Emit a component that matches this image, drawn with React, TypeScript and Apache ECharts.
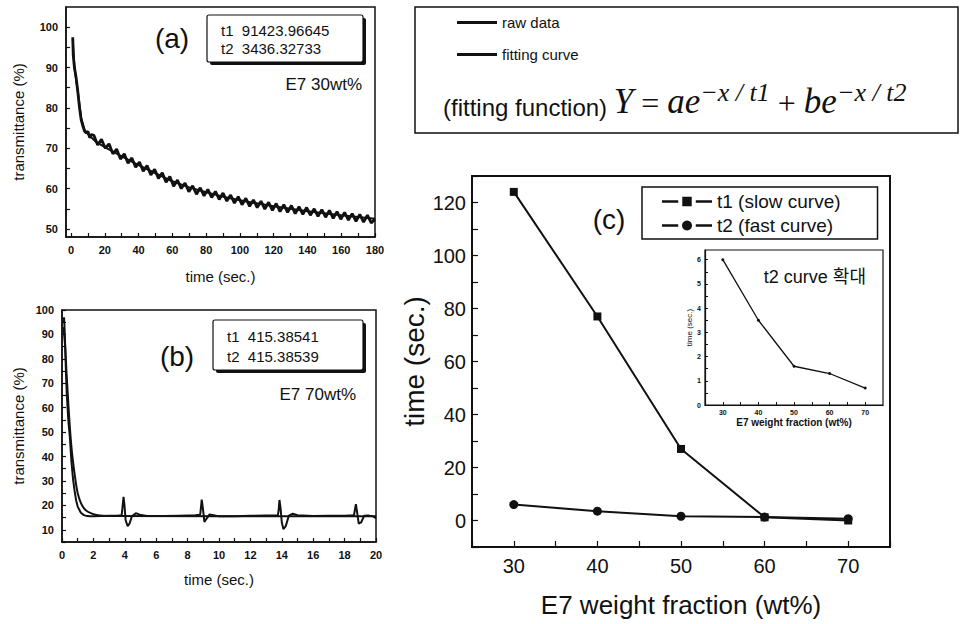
import React, { useEffect, useRef } from "react";
import * as echarts from "echarts";

// ---------- Panel (a): E7 30wt% ----------
const aRawTime = [1, 1.3, 2, 3, 4, 5, 6, 7, 8, 9, 10, 11, 12,
  13.5, 15.75, 18, 20.25, 22.5, 24.75, 27, 29.25, 31.5, 33.75, 36, 38.25, 40.5, 42.75, 45, 47.25, 49.5,
  51.75, 54, 56.25, 58.5, 60.75, 63, 65.25, 67.5, 69.75, 72, 74.25, 76.5, 78.75, 81, 83.25, 85.5, 87.75,
  90, 92.25, 94.5, 96.75, 99, 101.25, 103.5, 105.75, 108, 110.25, 112.5, 114.75, 117, 119.25, 121.5,
  123.75, 126, 128.25, 130.5, 132.75, 135, 137.25, 139.5, 141.75, 144, 146.25, 148.5, 150.75, 153,
  155.25, 157.5, 159.75, 162, 164.25, 166.5, 168.75, 171, 173.25, 175.5, 177.75, 180];
const aRawValue = [97.5, 93, 90, 87.5, 84, 80, 77, 75.5, 74.2, 73.8, 74.2, 72.6, 73.4,
  73.2, 70.8, 72.2, 70.0, 71.1, 68.6, 69.8, 67.3, 68.6, 66.3, 67.6, 65.3, 66.6, 64.3, 65.7, 63.4, 64.8,
  62.5, 63.9, 61.6, 63.0, 60.6, 62.1, 60.0, 61.4, 59.2, 60.7, 58.6, 60.2, 58.2, 59.8, 57.8, 59.3, 57.3,
  58.9, 56.9, 58.4, 56.4, 58.0, 56.0, 57.6, 55.6, 57.2, 55.3, 56.9, 54.9, 56.6, 54.6, 56.3,
  54.3, 56.0, 54.1, 55.8, 53.8, 55.5, 53.6, 55.3, 53.4, 55.0, 53.1, 54.8, 52.9, 54.6,
  52.6, 54.3, 52.4, 54.1, 52.2, 53.8, 51.9, 53.6, 51.7, 53.4, 51.5, 52.4];
const aFitTime = [1, 2, 4, 6, 8, 10, 15, 20, 30, 40, 50, 60, 70, 80, 90, 100, 120, 140, 160, 180];
const aFitValue = [97, 90, 84, 77.5, 74.5, 73.5, 71.5, 70.3, 68, 65.8, 63.8, 61.8, 60.3, 59.1, 58, 57.1, 55.6, 54.4, 53.4, 52.5];
const aXLabels = [0, 20, 40, 60, 80, 100, 120, 140, 160, 180];
const aXTicks = [0, 10, 20, 30, 40, 50, 60, 70, 80, 90, 100, 110, 120, 130, 140, 150, 160, 170, 180];
const aYLabels = [50, 60, 70, 80, 90, 100];
const aYTicks = [50, 55, 60, 65, 70, 75, 80, 85, 90, 95, 100];

// ---------- Panel (b): E7 70wt% ----------
const bRawTime = [0.1, 0.13, 0.16, 0.2, 0.25, 0.3, 0.4, 0.5, 0.6, 0.7, 0.8, 0.9, 1.0, 1.2, 1.4, 1.6, 1.8, 2, 2.5, 3, 3.5,
  3.8, 3.85, 3.92, 3.98, 4.05, 4.18, 4.3, 4.45, 4.7, 4.95, 5.5, 6.5, 7.5, 8.5,
  8.8, 8.85, 8.9, 8.97, 9.07, 9.2, 9.4, 9.65, 10, 11, 12, 13,
  13.75, 13.8, 13.85, 13.92, 14.0, 14.1, 14.25, 14.45, 14.7, 15, 16, 17, 18,
  18.6, 18.65, 18.72, 18.8, 18.9, 19.05, 19.25, 19.5, 19.8, 20];
const bRawValue = [95, 97, 93, 86, 75, 66, 55, 48, 38, 31, 26, 22, 19.5, 17, 16, 15.6, 15.5, 15.5, 15.6, 15.7, 15.8,
  16, 19, 23.5, 20, 14, 11.5, 12.5, 15.5, 16.8, 16.2, 15.6, 15.6, 15.8, 16,
  16.2, 19, 22.4, 19, 13.2, 14.5, 16.3, 16, 15.5, 15.5, 15.7, 15.9,
  16, 18, 22.2, 19, 13, 10.3, 11.5, 15.8, 16.6, 16, 15.6, 15.7, 15.8,
  16, 18, 20.5, 17, 12.5, 13, 15.8, 15.9, 15.5, 14.8];
const bFitTime = [0.1, 0.2, 0.3, 0.4, 0.5, 0.6, 0.7, 0.8, 0.9, 1.0, 1.2, 1.4, 1.6, 1.8, 2.0, 2.4, 3, 20];
const bFitValue = [93, 85, 73, 62, 52, 44, 38, 33, 28.5, 25, 21, 18.8, 17.6, 16.9, 16.4, 15.9, 15.6, 15.5];
const bXLabels = [0, 2, 4, 6, 8, 10, 12, 14, 16, 18, 20];
const bXTicks = [0, 1, 2, 3, 4, 5, 6, 7, 8, 9, 10, 11, 12, 13, 14, 15, 16, 17, 18, 19, 20];
const bYLabels = [10, 20, 30, 40, 50, 60, 70, 80, 90, 100];
const bYTicks = [5, 10, 15, 20, 25, 30, 35, 40, 45, 50, 55, 60, 65, 70, 75, 80, 85, 90, 95, 100];

// ---------- Panel (c) ----------
const weightFraction = [30, 40, 50, 60, 70];
const t1Slow = [124, 77, 27, 1.2, 0];
const t2Fast = [6.0, 3.5, 1.6, 1.3, 0.7];
const cXLabels = [30, 40, 50, 60, 70];
const cXTicks = [25, 30, 35, 40, 45, 50, 55, 60, 65, 70, 75];
const cYLabels = [0, 20, 40, 60, 80, 100, 120];
const cYTicks = [-10, 0, 10, 20, 30, 40, 50, 60, 70, 80, 90, 100, 110, 120, 130];
const insetXLabels = [30, 40, 50, 60, 70];
const insetXTicks = [30, 35, 40, 45, 50, 55, 60, 65, 70];
const insetYLabels = [0, 1, 2, 3, 4, 5, 6];
const insetYTicks = [0, 0.5, 1, 1.5, 2, 2.5, 3, 3.5, 4, 4.5, 5, 5.5, 6];

const BLACK = "#111";
const SANS = "'Liberation Sans', Arial, Helvetica, sans-serif";
const SERIF = "'Liberation Serif', 'Times New Roman', serif";

// legend icons: dash - marker - dash
const ICON_T1 = "path://M0,3.5h12v2h-12z M15,1h7v7h-7z M25,3.5h12v2h-12z";
const ICON_T2 = "path://M0,3.5h12v2h-12z M25,3.5h12v2h-12z M18.5,0.8a3.7,3.7 0 1 0 0.01 0z";

const zip = (xs: number[], ys: number[]) => xs.map((x, i) => [x, ys[i]]);

function valAxis(o: any) {
  return {
    type: "value",
    gridIndex: o.grid,
    min: o.min,
    max: o.max,
    axisLine: { show: true, onZero: false, lineStyle: { color: BLACK, width: o.lw ?? 1.5 } },
    axisTick: {
      show: true,
      inside: true,
      length: o.tickLen ?? 4,
      customValues: o.ticks,
      lineStyle: { color: BLACK, width: o.tw ?? 1.2 },
    },
    axisLabel: {
      customValues: o.labels,
      color: BLACK,
      fontSize: o.fs,
      fontWeight: o.bold ? "bold" : "normal",
      fontFamily: SANS,
      margin: o.margin ?? 6,
    },
    splitLine: { show: false },
    name: o.name,
    nameLocation: "middle",
    nameGap: o.nameGap,
    nameTextStyle: {
      color: BLACK,
      fontSize: o.nameSize,
      fontFamily: SANS,
      fontWeight: o.nameBold ? "bold" : "normal",
    },
  };
}

function boxWithShadow(x: number, y: number, w: number, h: number, line1: string, line2: string) {
  return {
    type: "group",
    z: 50,
    children: [
      { type: "rect", shape: { x: x + 3, y: y + 3, width: w, height: h, r: 2 }, style: { fill: BLACK } },
      { type: "rect", shape: { x, y, width: w, height: h, r: 2 }, style: { fill: "#fff", stroke: BLACK, lineWidth: 1.2 } },
      { type: "text", x: x + 14, y: y + h * 0.32, style: { text: line1, fill: BLACK, font: `15px ${SANS}`, verticalAlign: "middle" } },
      { type: "text", x: x + 14, y: y + h * 0.72, style: { text: line2, fill: BLACK, font: `15px ${SANS}`, verticalAlign: "middle" } },
    ],
  };
}

export default function App() {
  const ref = useRef<HTMLDivElement>(null);

  useEffect(() => {
    document.body.style.margin = "0";
    if (!ref.current) return;
    const chart = echarts.init(ref.current, undefined, { renderer: "svg" });

    const option: any = {
      animation: false,
      backgroundColor: "#fff",
      grid: [
        { left: 66, top: 7, width: 309, height: 230, show: true, borderColor: BLACK, borderWidth: 1.5, backgroundColor: "transparent" },
        { left: 62, top: 310, width: 314, height: 232, show: true, borderColor: BLACK, borderWidth: 1.5, backgroundColor: "transparent" },
        { left: 472, top: 176, width: 418, height: 371, show: true, borderColor: BLACK, borderWidth: 2, backgroundColor: "transparent" },
        { left: 705, top: 250, width: 178, height: 155, show: true, borderColor: BLACK, borderWidth: 1.2, backgroundColor: "#fff" },
      ],
      xAxis: [
        valAxis({ grid: 0, min: -3, max: 180, labels: aXLabels, ticks: aXTicks, fs: 11, bold: true, margin: 7, name: "time (sec.)", nameGap: 32, nameSize: 15 }),
        valAxis({ grid: 1, min: 0, max: 20, labels: bXLabels, ticks: bXTicks, fs: 11, bold: true, margin: 7, name: "time (sec.)", nameGap: 30, nameSize: 15 }),
        valAxis({ grid: 2, min: 25, max: 75, labels: cXLabels, ticks: cXTicks, fs: 20, margin: 9, tickLen: 6, lw: 2, name: "E7 weight fraction (wt%)", nameGap: 45, nameSize: 26 }),
        valAxis({ grid: 3, min: 25, max: 75, labels: insetXLabels, ticks: insetXTicks, fs: 7, bold: true, margin: 4, tickLen: 3, lw: 1.2, tw: 1, name: "E7 weight fraction (wt%)", nameGap: 12, nameSize: 10, nameBold: true }),
      ],
      yAxis: [
        valAxis({ grid: 0, min: 48, max: 105, labels: aYLabels, ticks: aYTicks, fs: 11, bold: true, margin: 8, name: "transmittance (%)", nameGap: 40, nameSize: 15 }),
        valAxis({ grid: 1, min: 5, max: 100, labels: bYLabels, ticks: bYTicks, fs: 11, bold: true, margin: 8, name: "transmittance (%)", nameGap: 36, nameSize: 15 }),
        valAxis({ grid: 2, min: -10, max: 130, labels: cYLabels, ticks: cYTicks, fs: 20, margin: 6, tickLen: 6, lw: 2, name: "time (sec.)", nameGap: 44, nameSize: 28 }),
        valAxis({ grid: 3, min: 0, max: 6.4, labels: insetYLabels, ticks: insetYTicks, fs: 7, bold: true, margin: 4, tickLen: 3, lw: 1.2, tw: 1, name: "time (sec.)", nameGap: 10, nameSize: 8 }),
      ],
      legend: [
        {
          data: [
            { name: "raw data", icon: "rect" },
            { name: "fitting curve", icon: "rect" },
          ],
          orient: "vertical",
          left: 452,
          top: 10,
          itemWidth: 40,
          itemHeight: 3,
          itemGap: 17,
          selectedMode: false,
          textStyle: { color: BLACK, fontSize: 15, fontFamily: SANS },
        },
        {
          data: [
            { name: "t1 (slow curve)", icon: ICON_T1 },
            { name: "t2 (fast curve)", icon: ICON_T2 },
          ],
          orient: "vertical",
          left: 642,
          top: 187,
          padding: [5, 37, 4, 20],
          itemWidth: 50,
          itemHeight: 10,
          itemGap: 5,
          selectedMode: false,
          borderColor: BLACK,
          borderWidth: 1.5,
          backgroundColor: "#fff",
          textStyle: { color: BLACK, fontSize: 19, fontFamily: SANS },
        },
      ],
      series: [
        { name: "fitting curve", type: "line", xAxisIndex: 0, yAxisIndex: 0, data: zip(aFitTime, aFitValue), symbol: "none", lineStyle: { color: BLACK, width: 2 }, itemStyle: { color: BLACK } },
        { name: "raw data", type: "line", xAxisIndex: 0, yAxisIndex: 0, data: zip(aRawTime, aRawValue), symbol: "none", lineStyle: { color: BLACK, width: 2.8 }, itemStyle: { color: BLACK } },
        { name: "raw data", type: "line", xAxisIndex: 1, yAxisIndex: 1, data: zip(bRawTime, bRawValue), symbol: "none", lineStyle: { color: BLACK, width: 2 }, itemStyle: { color: BLACK } },
        { name: "fitting curve", type: "line", xAxisIndex: 1, yAxisIndex: 1, data: zip(bFitTime, bFitValue), symbol: "none", smooth: 0.3, lineStyle: { color: BLACK, width: 2 }, itemStyle: { color: BLACK } },
        { name: "t1 (slow curve)", type: "line", xAxisIndex: 2, yAxisIndex: 2, data: zip(weightFraction, t1Slow), symbol: "rect", symbolSize: 8, lineStyle: { color: BLACK, width: 2 }, itemStyle: { color: BLACK } },
        { name: "t2 (fast curve)", type: "line", xAxisIndex: 2, yAxisIndex: 2, data: zip(weightFraction, t2Fast), symbol: "circle", symbolSize: 9, lineStyle: { color: BLACK, width: 2 }, itemStyle: { color: BLACK } },
        { name: "t2 inset", type: "line", xAxisIndex: 3, yAxisIndex: 3, data: zip(weightFraction, t2Fast), symbol: "circle", symbolSize: 3, lineStyle: { color: BLACK, width: 1.3 }, itemStyle: { color: BLACK } },
      ],
      graphic: [
        // legend / formula box
        { type: "rect", z: 1, shape: { x: 415, y: 7, width: 543, height: 126 }, style: { fill: "none", stroke: BLACK, lineWidth: 1.5 } },
        {
          type: "text",
          z: 10,
          x: 443,
          y: 99,
          style: {
            text: "{a|(fitting function) }{b|Y}{c| = }{b|ae}{s|−x / t1}{c| + }{b|be}{s|−x / t2}",
            fill: BLACK,
            verticalAlign: "middle",
            rich: {
              a: { fontFamily: SANS, fontSize: 24, fill: BLACK, lineHeight: 40, verticalAlign: "bottom" },
              b: { fontFamily: SERIF, fontStyle: "italic", fontSize: 35, fill: BLACK, lineHeight: 40, verticalAlign: "bottom" },
              c: { fontFamily: SERIF, fontSize: 32, fill: BLACK, lineHeight: 40, verticalAlign: "bottom" },
              s: { fontFamily: SERIF, fontStyle: "italic", fontSize: 26, fill: BLACK, lineHeight: 20, verticalAlign: "top" },
            },
          },
        },
        // panel (a)
        boxWithShadow(207, 15, 156, 47, "t1  91423.96645", "t2  3436.32733"),
        { type: "text", z: 50, x: 172, y: 38, style: { text: "(a)", fill: BLACK, font: `28px ${SANS}`, align: "center", verticalAlign: "middle" } },
        { type: "text", z: 50, x: 362, y: 84, style: { text: "E7 30wt%", fill: BLACK, font: `17px ${SANS}`, align: "right", verticalAlign: "middle" } },
        // panel (b)
        boxWithShadow(213, 320, 150, 50, "t1  415.38541", "t2  415.38539"),
        { type: "text", z: 50, x: 177, y: 356, style: { text: "(b)", fill: BLACK, font: `28px ${SANS}`, align: "center", verticalAlign: "middle" } },
        { type: "text", z: 50, x: 356, y: 394, style: { text: "E7 70wt%", fill: BLACK, font: `17px ${SANS}`, align: "right", verticalAlign: "middle" } },
        // panel (c)
        { type: "text", z: 50, x: 609, y: 219, style: { text: "(c)", fill: BLACK, font: `28px ${SANS}`, align: "center", verticalAlign: "middle" } },
        { type: "text", z: 50, x: 866, y: 277, style: { text: "t2 curve 확대", fill: BLACK, font: `18px ${SANS}, 'Noto Sans CJK KR'`, align: "right", verticalAlign: "middle" } },
      ],
    };

    chart.setOption(option);
    return () => chart.dispose();
  }, []);

  return <div ref={ref} style={{ width: 966, height: 624 }} />;
}
